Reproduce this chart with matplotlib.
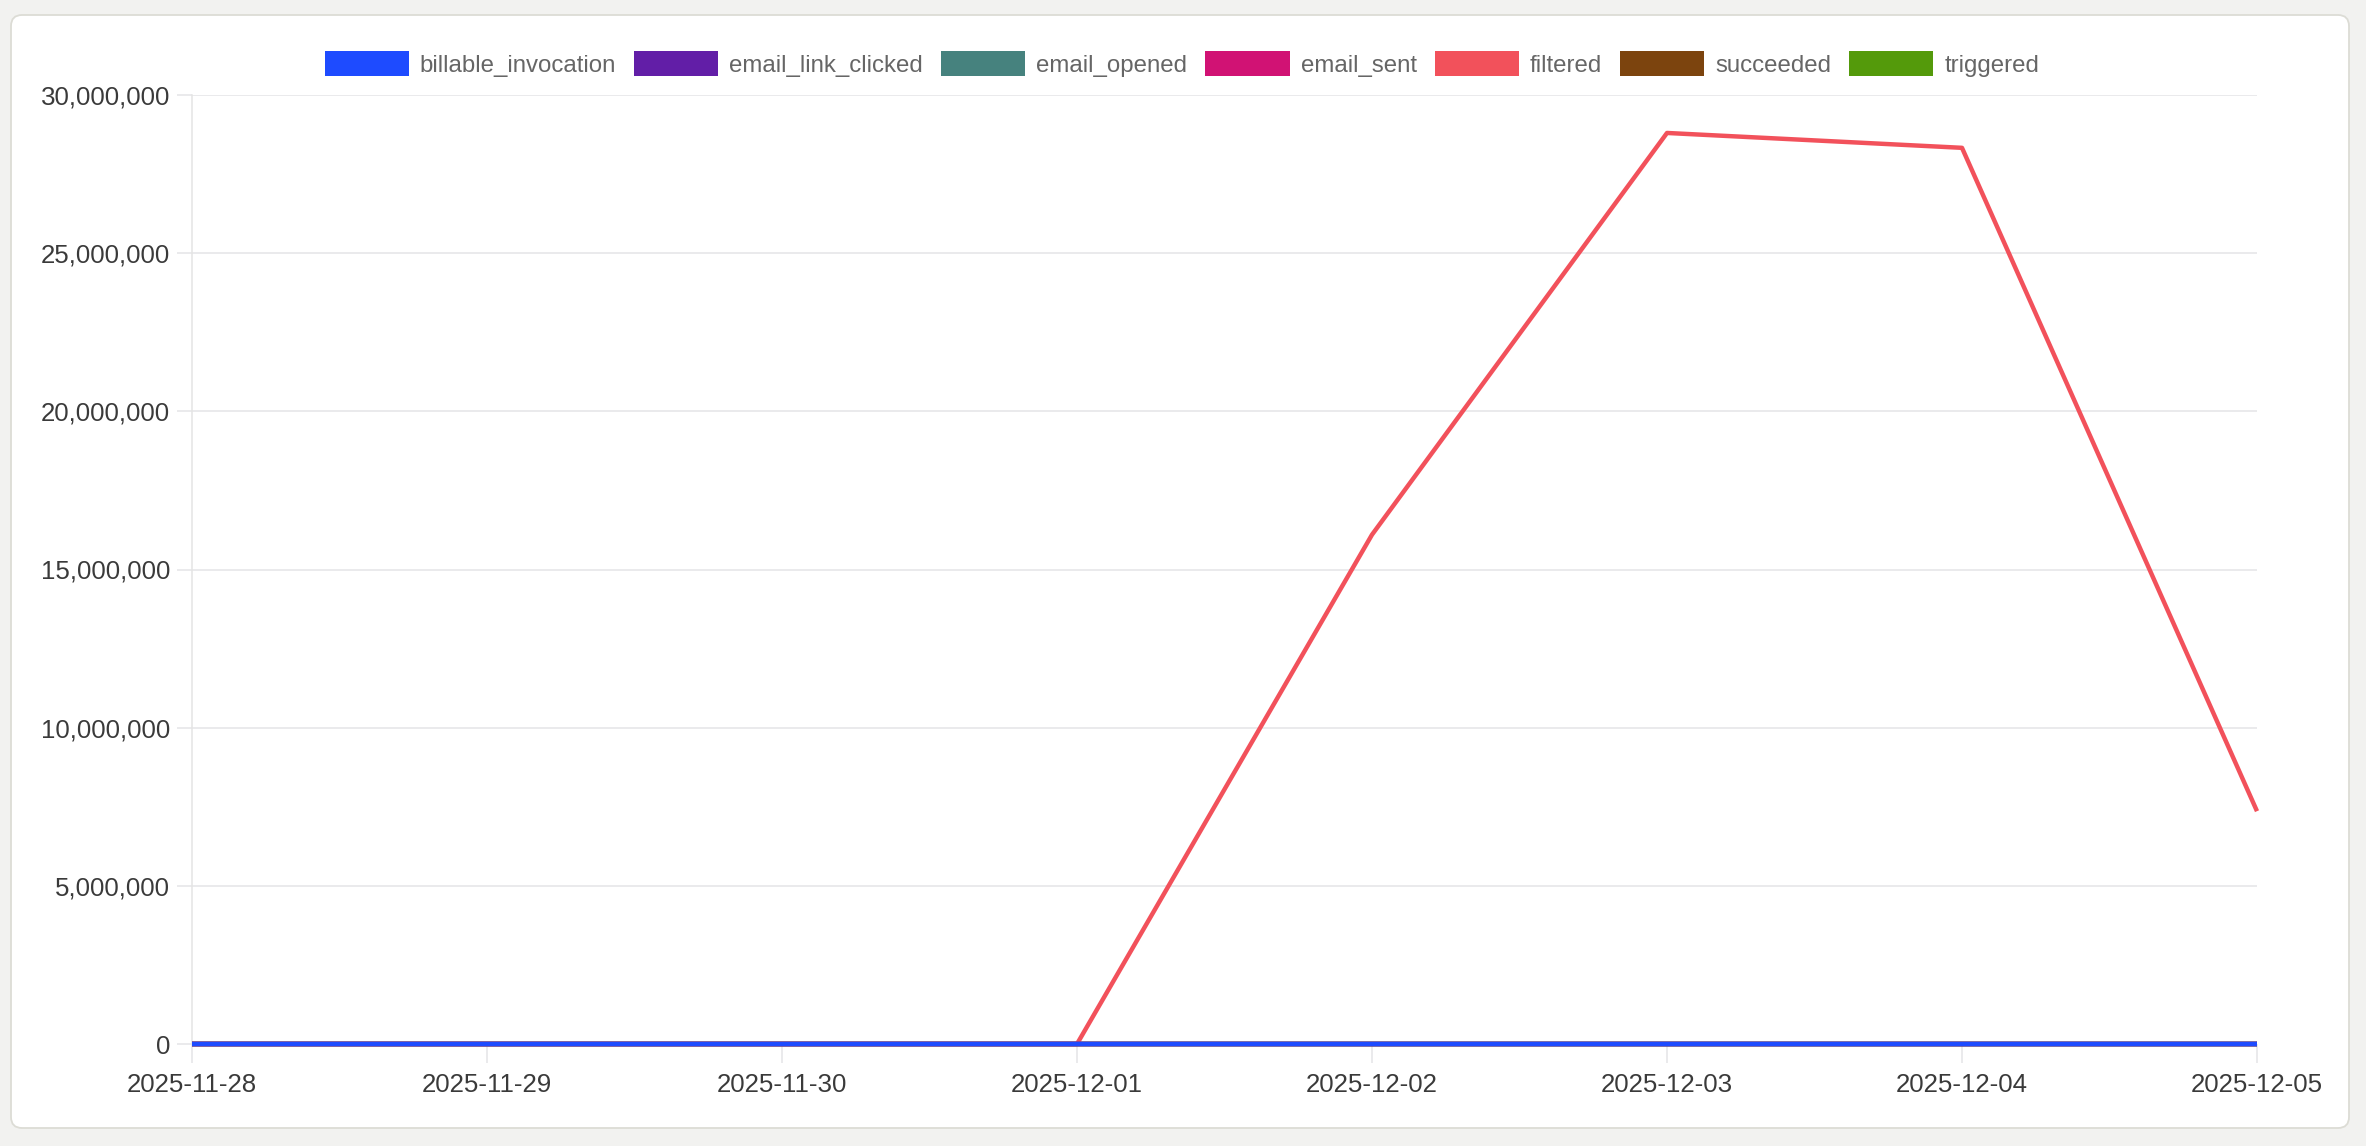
import matplotlib
matplotlib.use("Agg")
import matplotlib.pyplot as plt
import matplotlib.dates as mdates
from matplotlib.patches import FancyBboxPatch, Patch
from matplotlib.ticker import FuncFormatter
import numpy as np
import datetime as dt

dates = ["2025-11-28", "2025-11-29", "2025-11-30", "2025-12-01",
         "2025-12-02", "2025-12-03", "2025-12-04", "2025-12-05"]
series_names = ["billable_invocation", "email_link_clicked", "email_opened",
                "email_sent", "filtered", "succeeded", "triggered"]
billable_invocation = [0, 0, 0, 0, 0, 0, 0, 0]
email_link_clicked = [0, 0, 0, 0, 0, 0, 0, 0]
email_opened = [0, 0, 0, 0, 0, 0, 0, 0]
email_sent = [0, 0, 0, 0, 0, 0, 0, 0]
filtered = [0, 0, 0, 0, 16100000, 28800000, 28330000, 7360000]
succeeded = [0, 0, 0, 0, 0, 0, 0, 0]
triggered = [0, 0, 0, 0, 0, 0, 0, 0]
series_values = [billable_invocation, email_link_clicked, email_opened,
                 email_sent, filtered, succeeded, triggered]
colors = ["#1E4BFF", "#621EA7", "#46827E", "#D11274", "#F2515B", "#7C440E", "#549A0B"]
y_ticks = [0, 5000000, 10000000, 15000000, 20000000, 25000000, 30000000]

W, H = 2366, 1146
fig = plt.figure(figsize=(W / 100, H / 100), dpi=100)
fig.patch.set_facecolor("#F2F2F0")

card = FancyBboxPatch((11 / 100, (H - 1128) / 100), (2349 - 11) / 100, (1128 - 15) / 100,
                      boxstyle="round,pad=0,rounding_size=0.11",
                      transform=fig.dpi_scale_trans, facecolor="white",
                      edgecolor="#DCDCD5", linewidth=1.3, zorder=-10)
fig.patches.append(card)

ax = fig.add_axes([192 / W, 1 - 1044 / H, (2257 - 192) / W, (1044 - 95) / H])
ax.set_facecolor("none")
ax.set_zorder(5)

x = [dt.datetime.strptime(d, "%Y-%m-%d") for d in dates]
n = len(series_names)
for i, (name, vals, c) in enumerate(zip(series_names, series_values, colors)):
    ax.plot(x, vals, color=c, lw=3.2, label=name, zorder=10 + (n - i),
            solid_capstyle="butt", clip_on=False)

ax.set_xlim(x[0], x[-1])
ax.set_ylim(0, 30000000)
ax.set_yticks(y_ticks)
ax.yaxis.set_major_formatter(FuncFormatter(lambda v, p: f"{int(v):,}"))
ax.set_xticks(x)
ax.xaxis.set_major_formatter(mdates.DateFormatter("%Y-%m-%d"))

ax.grid(axis="y", color="#E4E4E7", lw=1.1)
ax.set_axisbelow(True)
for s in ["top", "right", "bottom"]:
    ax.spines[s].set_visible(False)
ax.spines["left"].set_color("#E4E4E4")
ax.spines["left"].set_linewidth(1.1)

tick_font = "Liberation Sans"
ax.tick_params(axis="y", length=10.8, width=1.1, color="#E4E4E7", pad=5,
               labelsize=18.6, labelcolor="#3A3A3A")
ax.tick_params(axis="x", length=14, width=1.1, color="#E4E4E7", pad=7,
               labelsize=18.6, labelcolor="#3A3A3A")
for lab in ax.get_xticklabels() + ax.get_yticklabels():
    lab.set_fontfamily(tick_font)

handles = [Patch(facecolor=c, edgecolor="none") for c in colors]
leg = fig.legend(handles, series_names, loc="center", bbox_to_anchor=(1182 / W, 1 - 64 / H),
                 ncol=len(series_names), frameon=False,
                 prop={"family": "Liberation Sans", "size": 17.3},
                 handlelength=3.5, handleheight=1.17, handletextpad=0.46,
                 columnspacing=0.75, borderaxespad=0, borderpad=0)
for t in leg.get_texts():
    t.set_color("#666666")

fig.savefig("out.png", dpi=100, facecolor=fig.get_facecolor())
